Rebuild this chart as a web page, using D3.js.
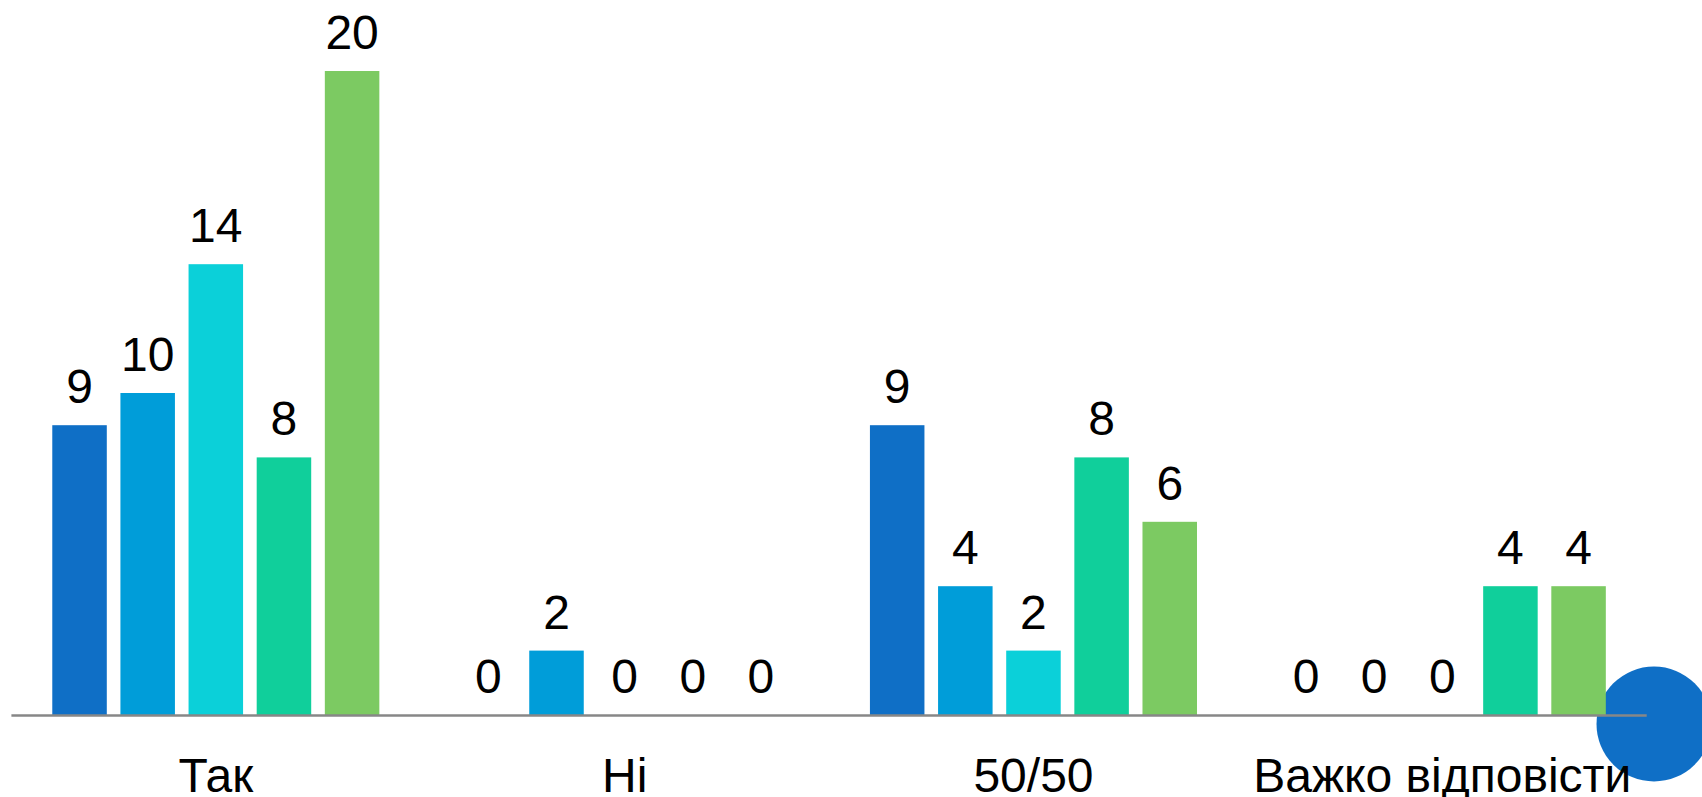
<!DOCTYPE html>
<html>
<head>
<meta charset="utf-8">
<script src="https://cdn.jsdelivr.net/npm/d3@7"></script>
<style>
  html, body { margin: 0; padding: 0; background: #ffffff; overflow: hidden; }
  svg { display: block; }
  text { font-family: "Liberation Sans", Arial, sans-serif; fill: #000; }
</style>
</head>
<body>
<svg id="chart" width="1702" height="797"></svg>
<script>
const categories = ["Так", "Ні", "50/50", "Важко відповісти"];
const seriesNames = ["s1", "s2", "s3", "s4", "s5"];
const series1 = [9, 0, 9, 0];
const series2 = [10, 2, 4, 0];
const series3 = [14, 0, 2, 0];
const series4 = [8, 0, 8, 4];
const series5 = [20, 0, 6, 4];
const colors = ["#0F6FC6", "#009DD9", "#0BD0D9", "#10CF9B", "#7CCA62"];

const allSeries = [series1, series2, series3, series4, series5];

const svg = d3.select("#chart");

// decorative circle (behind everything)
svg.append("circle")
  .attr("cx", 1654).attr("cy", 724).attr("r", 57.5)
  .attr("fill", "#0F6FC6");

const x0 = d3.scaleBand()
  .domain(categories)
  .range([11.4, 1646.7])
  .paddingInner(0.2)
  .paddingOuter(0.1);

const x1 = d3.scaleBand()
  .domain(seriesNames)
  .range([0, x0.bandwidth()])
  .paddingInner(0.2)
  .paddingOuter(0);

const y = d3.scaleLinear()
  .domain([0, 20])
  .range([715, 71]);

const data = [];
categories.forEach((c, ci) => {
  seriesNames.forEach((s, si) => {
    data.push({ cat: c, s: s, si: si, v: allSeries[si][ci] });
  });
});

const g = svg.append("g");

g.selectAll("rect.bar")
  .data(data.filter(d => d.v > 0))
  .join("rect")
  .attr("class", "bar")
  .attr("x", d => x0(d.cat) + x1(d.s))
  .attr("y", d => y(d.v))
  .attr("width", x1.bandwidth())
  .attr("height", d => y(0) - y(d.v))
  .attr("fill", d => colors[d.si]);

g.selectAll("text.val")
  .data(data)
  .join("text")
  .attr("class", "val")
  .attr("x", d => x0(d.cat) + x1(d.s) + x1.bandwidth() / 2)
  .attr("y", d => y(d.v) - 22)
  .attr("text-anchor", "middle")
  .attr("font-size", 48)
  .text(d => d.v);

// x axis
const axis = d3.axisBottom(x0).tickSize(0).tickSizeOuter(0);
const axG = svg.append("g")
  .attr("transform", `translate(0, ${y(0) + 0.5})`)
  .call(axis);
axG.select(".domain")
  .attr("stroke", "#878787")
  .attr("stroke-width", 2.5)
  .attr("d", `M${x0.range()[0]},0H${x0.range()[1]}`);
axG.selectAll(".tick text")
  .attr("font-size", 48)
  .attr("font-family", "'Liberation Sans', Arial, sans-serif")
  .attr("fill", "#000")
  .attr("dy", null)
  .attr("y", 76);
</script>
</body>
</html>
